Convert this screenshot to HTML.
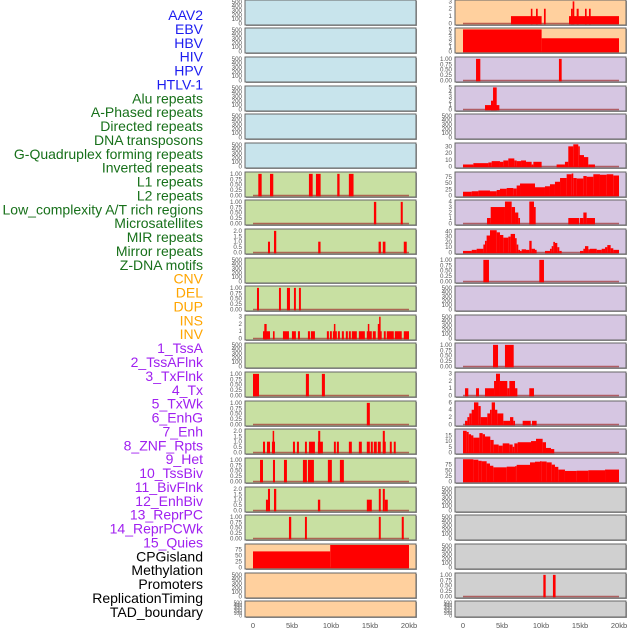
<!DOCTYPE html>
<html><head><meta charset="utf-8"><style>
html,body{margin:0;padding:0;background:#fff;width:630px;height:630px;overflow:hidden}
svg{display:block;font-family:"Liberation Sans",sans-serif}
</style></head><body>
<svg id="chart" width="630" height="630" viewBox="0 0 630 630"></svg>
<script>
// ---- data ----
const labels = ["AAV2","EBV","HBV","HIV","HPV","HTLV-1","Alu repeats","A-Phased repeats","Directed repeats","DNA transposons","G-Quadruplex forming repeats","Inverted repeats","L1 repeats","L2 repeats","Low_complexity A/T rich regions","Microsatellites","MIR repeats","Mirror repeats","Z-DNA motifs","CNV","DEL","DUP","INS","INV","1_TssA","2_TssAFlnk","3_TxFlnk","4_Tx","5_TxWk","6_EnhG","7_Enh","8_ZNF_Rpts","9_Het","10_TssBiv","11_BivFlnk","12_EnhBiv","13_ReprPC","14_ReprPCWk","15_Quies","CPGisland","Methylation","Promoters","ReplicationTiming","TAD_boundary"];
const labelGroups = [6,13,5,15,5];
const groupColors = ["#1c1cf0","#17701a","#ffa500","#a020f0","#000000"];
const xTicks = [0,5,10,15,20];
const xTickLabels = ["0","5kb","10kb","15kb","20kb"];
const rowTops = [0,28,57,86,114,143,172,200,229,258,286,315,343,372,401,429,458,487,515,544,573,601];
const leftBg = ["b","b","b","b","b","b","g","g","g","g","g","g","g","g","g","g","g","g","g","o","o","o"];
const rightBg = ["o","o","p","p","p","p","p","p","p","p","p","p","p","p","p","p","p","k","k","k","k","k"];
const T500=[0,100,200,300,400,500], T1=[0,0.25,0.5,0.75,1], T2=[0,0.5,1,1.5,2], T3=[0,1,2,3], T5=[0,1,2,3,4,5];
// segments: [startKb, endKb, value]
const L6=[[0.68,1.11,1],[2.18,2.6,1],[7.17,7.65,1],[8.07,8.67,1],[10.8,11.1,1],[12.29,12.89,1]];
const L7=[[15.5,15.8,1],[18.94,19.2,1]];
const L8=[[1.92,2.18,1],[2.69,2.98,2],[8.36,8.66,1],[16.1,16.4,1],[16.64,16.98,1],[19.33,19.71,1]];
const L10=[[0.51,0.77,1],[3.33,3.58,1],[4.35,4.74,1],[5.25,5.5,1],[5.89,6.14,1]];
const L11=[[1.28,2.18,1],[1.45,1.75,2],[2.56,2.77,1],[3.84,4.61,1],[4.99,5.5,1],[5.76,6.02,1],[7.04,7.3,1],[7.42,7.94,1],[9.47,9.73,1],[9.86,10.11,1],[10.24,10.75,1],[10.37,10.5,2],[10.88,11.14,1],[11.39,11.65,1],[11.9,12.16,1],[12.29,12.54,1],[12.67,13.31,1],[13.57,14.34,1],[14.59,15.23,1],[14.72,14.9,2],[15.36,15.74,1],[16.0,16.5,1],[16.0,16.25,2],[16.17,16.35,3],[16.77,17.02,1],[17.15,18.05,1],[18.18,19.07,1],[19.33,20.0,1]];
const L13=[[0,0.77,1],[6.78,7.17,1],[8.83,9.22,1]];
const L14=[[14.59,14.98,1]];
const L15=[[1.28,1.54,1],[1.79,2.18,1],[2.43,2.82,1],[2.52,2.69,2],[5.12,5.38,1],[5.63,5.89,1],[6.66,6.91,1],[7.17,7.94,1],[8.32,8.96,1],[8.36,8.62,2],[10.37,10.62,1],[10.75,11.01,1],[12.29,12.67,1],[13.57,13.95,1],[14.59,14.98,1],[15.1,15.36,1],[15.49,15.87,1],[16.0,16.38,1],[16.64,17.02,1],[16.64,16.9,2],[17.54,17.79,1],[18.05,18.3,1]];
const L16=[[0.9,1.28,1],[2.56,2.82,1],[3.97,4.35,1],[6.4,6.91,1],[7.04,7.81,1],[9.6,10.11,1],[11.14,11.65,1]];
const L17=[[1.66,1.92,1],[1.92,2.18,2],[2.69,2.98,2],[8.32,8.62,1],[14.59,15.23,1],[16.13,16.38,2],[16.64,16.9,2],[16.9,17.28,1]];
const L18=[[4.61,4.9,1],[6.66,6.91,1],[16.13,16.38,1],[19.07,19.33,1]];
const L19=[[0,9.9,68],[9.9,20,95]];
const R0=[[6.15,10.08,1],[8.7,8.9,2],[9.36,9.58,2],[10.38,10.6,2],[13.59,20.0,1],[13.85,14.06,2],[14.06,14.27,3],[14.57,14.83,2],[15.64,15.85,2],[16.15,16.37,2]];
const R1=[[0,10.08,5],[10.08,20,3]];
const R2=[[1.67,2.22,1],[12.3,12.65,1]];
const R3=[[2.82,4.66,1],[3.59,3.85,2],[3.85,4.32,5]];
const R5=[[0,1.33,3],[1.33,3.25,5],[3.25,3.68,6],[3.68,4.74,8],[4.74,5.17,7],[5.17,5.81,9],[5.81,6.58,12],[6.58,6.88,9],[6.88,7.44,8],[7.44,8.08,9],[8.08,8.8,7],[8.8,9.02,3],[9.02,10.08,7],[12.0,13.07,3],[13.07,13.5,7],[13.5,14.14,30],[14.14,14.78,33],[14.78,14.91,30],[14.91,15.51,17],[15.51,16.06,14],[16.06,16.92,3]];
const R6=[[0,1.12,15],[1.12,1.97,17],[1.97,3.46,20],[3.46,4.32,17],[4.32,4.74,22],[4.74,5.6,27],[5.6,6.45,30],[6.45,6.88,28],[6.88,7.31,40],[7.31,9.23,48],[9.23,10.51,33],[10.51,11.15,37],[11.15,11.79,45],[11.79,12.44,55],[12.44,13.29,70],[13.29,13.93,85],[13.93,14.14,88],[14.14,14.57,70],[14.57,15.43,68],[15.43,15.85,78],[15.85,16.71,75],[16.71,17.56,85],[17.56,18.42,83],[18.42,19.27,85],[19.27,20.0,80]];
const R7=[[3.08,3.55,1],[3.55,5.38,3],[5.38,6.24,4],[6.24,6.67,3],[6.67,7.09,2],[7.09,7.31,1],[8.5,9.1,4],[9.1,9.32,3],[13.5,14.91,1],[15.0,15.43,1],[15.43,15.85,2],[15.85,16.92,1]];
const R8=[[0,1.12,3],[1.12,1.75,5],[1.75,2.61,7],[2.61,2.82,15],[2.82,3.03,22],[3.03,3.46,32],[3.46,4.32,42],[4.32,4.74,38],[4.74,5.17,33],[5.17,5.81,28],[5.81,6.11,30],[6.11,6.67,35],[6.67,6.88,27],[6.88,7.09,15],[7.09,7.31,5],[7.31,7.52,3],[7.52,8.08,6],[8.08,8.5,5],[8.5,8.8,22],[8.8,9.23,7],[9.23,9.44,5],[10.51,11.15,3],[11.15,11.37,7],[11.37,11.58,12],[11.58,11.79,20],[11.79,12.09,18],[12.09,12.35,10],[12.35,12.65,3],[15.0,15.43,3],[15.43,15.64,7],[15.64,16.07,12],[16.07,16.28,6],[16.28,17.14,7],[17.14,17.78,5],[17.78,18.21,7],[18.21,18.5,10],[18.5,18.93,14],[18.93,19.27,8],[19.27,20.0,5]];
const R9=[[2.61,3.33,1],[9.78,10.38,1]];
const R12=[[3.85,4.49,1],[5.38,6.5,1]];
const R13=[[0.26,0.68,1],[1.67,2.05,1],[2.82,3.98,1],[3.98,4.23,2],[4.23,4.74,3],[4.74,5.68,2],[5.68,5.94,1],[5.94,6.67,2],[6.67,6.97,1],[8.5,9.1,1]];
const R14=[[0.26,0.56,1],[0.56,0.81,2],[0.81,1.11,3],[1.11,1.41,4],[1.41,1.97,6],[1.97,2.27,5],[2.27,3.12,2],[3.12,3.46,3],[3.46,3.68,4],[3.68,4.1,6],[4.1,4.4,4],[4.4,5.17,3],[5.17,6.03,1],[6.03,6.45,2],[6.45,6.67,1],[7.65,8.68,1],[8.85,9.44,1]];
const R15=[[0,0.47,19],[0.47,0.73,18],[0.73,1.03,16],[1.03,1.33,15],[1.33,2.1,13],[2.1,2.52,17],[2.52,2.82,16],[2.82,3.5,14],[3.5,3.93,11],[3.93,4.57,7],[4.57,5.09,6],[5.09,5.94,8],[5.94,6.37,7],[6.37,6.58,5],[6.58,7.01,8],[7.01,8.72,9],[8.72,9.36,10],[9.36,10.21,12],[10.21,10.64,9],[10.64,11.28,4],[11.28,11.7,3]];
const R16=[[0,1.33,99],[1.33,1.97,97],[1.97,2.39,92],[2.39,3.03,90],[3.03,3.46,80],[3.46,3.89,70],[3.89,5.6,63],[5.6,6.67,66],[6.67,6.88,68],[6.88,8.59,74],[8.59,9.23,85],[9.23,9.87,88],[9.87,10.08,90],[10.08,10.72,89],[10.72,11.37,85],[11.37,11.79,75],[11.79,12.22,65],[12.22,13.07,53],[13.07,14.57,47],[14.57,16.07,48],[16.07,18.21,50],[18.21,20.0,53]];
const R20=[[10.3,10.6,1],[11.53,11.87,1]];
// per-row config: [segments, ticks, tickLabels, ymax]
const leftRows=[null,null,null,null,null,null,[L6,T1,1.04],[L7,T1,1.04],[L8,T2,2.08],null,[L10,T1,1.04],[L11,T3,3.1],null,[L13,T1,1.04],[L14,T1,1.04],[L15,T2,2.08],[L16,T1,1.04],[L17,T2,2.08],[L18,T1,1.04],[L19,[0,25,50,75],95],null,null];
const rightRows=[[R0,T3,3.05],[R1,T5,5.1],[R2,T1,1.04],[R3,T5,5.1],null,[R5,[0,10,20,30],33.5],[R6,[0,25,50,75],90],[R7,[0,1,2,3,4],4.1],[R8,[0,10,20,30,40],42.4],[R9,T1,1.04],null,null,[R12,T1,1.04],[R13,T3,3.1],[R14,[0,2,4,6],6.1],[R15,[0,5,10,15],19.7],[R16,[0,25,50,75],100],null,null,null,[R20,T1,1.04],null];

// ---- drawing ----
const NS="http://www.w3.org/2000/svg";
const svg=document.getElementById("chart");
const bgColors={b:"#c8e4ec",g:"#c8e0a2",o:"#ffd09e",p:"#d6c6e2",k:"#d0d0d0"};
function el(tag,attrs,parent){const e=document.createElementNS(NS,tag);for(const k in attrs)e.setAttribute(k,attrs[k]);(parent||svg).appendChild(e);return e;}
function fmt(v,ticks){ if(ticks===T1) return v.toFixed(2); if(ticks===T2) return v.toFixed(1); return String(v);}

// labels
let li=0;
labelGroups.forEach((n,g)=>{for(let i=0;i<n;i++){const t=el("text",{x:203,y:20+li*13.88,"text-anchor":"end","font-size":"14",fill:groupColors[g]});


t.textContent=labels[li];li++;}});

function panel(col,r){
  const x0=col?455:245, w=171, top=rowTops[r], h=(r===21?16:25);
  const px0=col?463:253, kbScale=7.8;
  const xs=kb=>px0+kb*kbScale;
  const g=el("g",{});
  
  
  el("rect",{x:x0+1,y:top+1,width:w,height:h,fill:"#999"},g);
  el("rect",{x:x0,y:top,width:w,height:h,fill:bgColors[(col?rightBg:leftBg)[r]],stroke:"#666","stroke-width":1},g);
  const cfg=(col?rightRows:leftRows)[r];
  const ticks=cfg?cfg[1]:T500, ymax=cfg?cfg[2]:520;
  const yb=top+h-1.5;
  const ys=v=>yb-(v/ymax)*(h-2.5);
  ticks.forEach(v=>{const t=el("text",{x:x0-3,y:ys(v)+2,"text-anchor":"end","font-size":(h<20?"5":"6.2"),fill:"#555"},g);
    
    
    t.textContent=fmt(v,ticks);});
  if(cfg){
    el("line",{x1:xs(0),x2:xs(20),y1:yb,y2:yb,stroke:"#a03030","stroke-width":1.5,"stroke-opacity":0.7},g);
    cfg[0].forEach(s=>{const b=el("rect",{x:xs(s[0]),y:ys(s[2]),width:Math.max(1.5,xs(s[1])-xs(s[0])),height:yb+0.75-ys(s[2]),fill:"#ff0000"},g);
      
      });
  }
}
for(let r=0;r<22;r++){panel(0,r);panel(1,r);}
// x axes
[253,463].forEach((px0,c)=>{xTicks.forEach((v,i)=>{const t=el("text",{x:px0+v*7.8,y:628,"text-anchor":"middle","font-size":"7.5",fill:"#555"});
  
  
  t.textContent=xTickLabels[i];});});
</script>
</body></html>
